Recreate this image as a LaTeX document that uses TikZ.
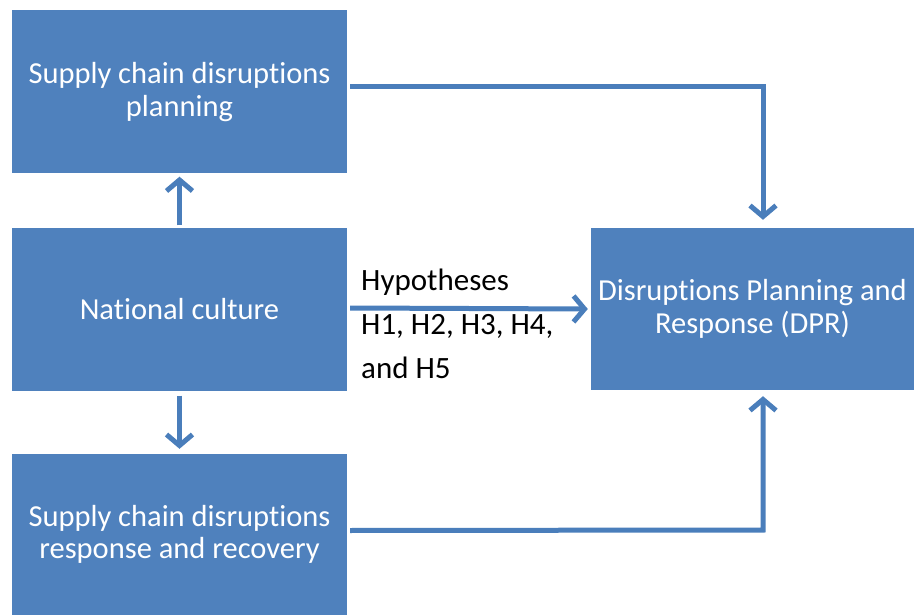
\documentclass[tikz,border=0pt]{standalone}
\usepackage{fontspec}
\setmainfont[Ligatures={NoCommon}]{Carlito}
\usetikzlibrary{arrows.meta,calc}
\definecolor{boxblue}{HTML}{4F81BD}
\definecolor{arrowblue}{HTML}{4A7EBB}
\tikzset{
  bluebox/.style={fill=boxblue, draw=none, text=white, align=center, font=\fontsize{30.5}{32.5}\selectfont, inner sep=0pt},
  conn/.style={draw=arrowblue, line width=5pt, line join=miter, -{Straight Barb[length=11pt,width=26pt,line width=5pt]}},
}
\begin{document}
\begin{tikzpicture}[x=1pt,y=-1pt]
\useasboundingbox (0,0) rectangle (914,615);
\node[bluebox, minimum width=335pt, minimum height=163pt] (plan) at (179.5,92) {Supply chain disruptions\\planning};
\node[bluebox, minimum width=335pt, minimum height=162pt] (nat) at (179.5,309.5) {National culture};
\node[bluebox, minimum width=335pt, minimum height=161pt] (resp) at (179.5,534.5) {Supply chain disruptions\\response and recovery};
\node[bluebox, minimum width=323pt, minimum height=162pt] (dpr) at (752.5,309) {Disruptions Planning and\\Response (DPR)};
\coordinate (c1) at (763,87);
\coordinate (c2) at (763,530);
\draw[conn] ($(nat.north)+(0,-3)$) -- ($(plan.south)+(0,3)$);
\draw[conn] ($(nat.south)+(0,5)$) -- ($(resp.north)+(0,-5)$);
\draw[conn] ($(plan.east)+(3,-5)$) -- (c1) -- ($(dpr.north)+(10.5,-8)$);
\draw[conn] ($(resp.east)+(3,-4)$) -- (c2) -- ($(dpr.south)+(10.5,6)$);
\draw[conn] ($(nat.east)+(3,-1.5)$) -- ($(dpr.west)+(-3,0)$);
\node[anchor=west, align=left, font=\fontsize{31}{44}\selectfont, inner sep=0pt] (hyp) at (361,324) {Hypotheses\\H1, H2, H3, H4,\\and H5};
\end{tikzpicture}
\end{document}
